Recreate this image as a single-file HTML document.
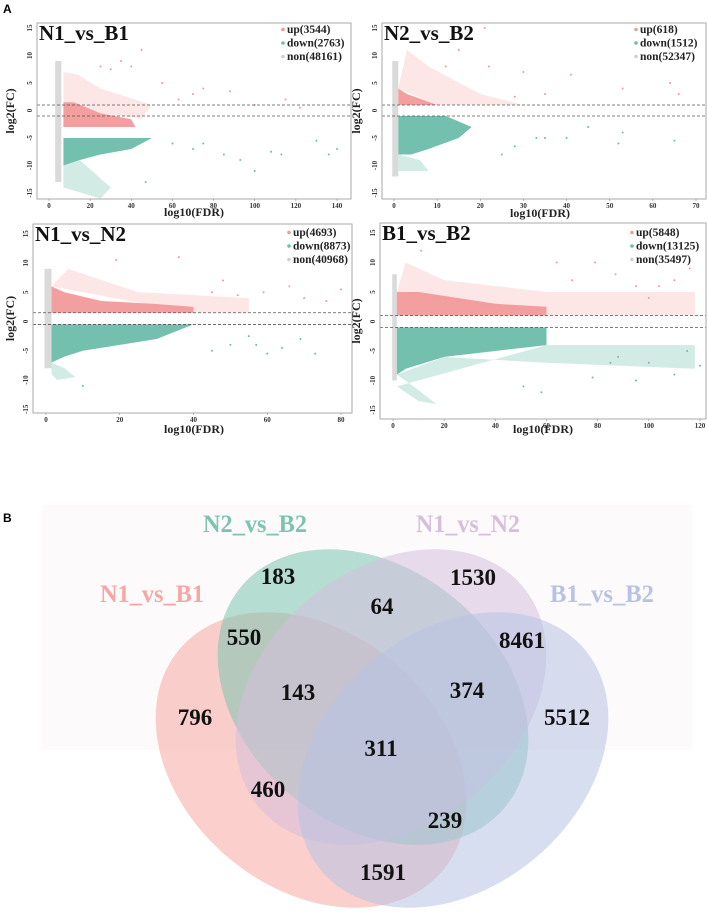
<!DOCTYPE html>
<html><head><meta charset="utf-8">
<style>
html,body{margin:0;padding:0;background:#fff;overflow:hidden;}
svg{display:block;}
text{font-family:"Liberation Serif",serif;}
</style></head>
<body>
<svg id="fig" width="708" height="920" viewBox="0 0 708 920" xmlns="http://www.w3.org/2000/svg" style="overflow:hidden">
<text x="3" y="13" font-weight="bold" font-size="12" style="font-family:'Liberation Sans',sans-serif">A</text>
<text x="3" y="522" font-weight="bold" font-size="12" style="font-family:'Liberation Sans',sans-serif">B</text>
<g id="volcanos"></g>
<g id="venn"></g>
</svg>
<script>
// ---------- Volcano data (data units: [log10(FDR), log2(FC)]) ----------
const panelTitles = ["N1_vs_B1","N2_vs_B2","N1_vs_N2","B1_vs_B2"];
const upCounts = [3544,618,4693,5848];
const downCounts = [2763,1512,8873,13125];
const nonCounts = [48161,52347,40968,35497];
const xTickSets = [[0,20,40,60,80,100,120,140],[0,10,20,30,40,50,60,70],[0,20,40,60,80],[0,20,40,60,80,100,120]];
const yTicks = [-15,-10,-5,0,5,10,15];
const cutLines = [[1,-1],[1,-1],[1.5,-0.5],[1,-1]];
const greyZones = [
 [[3,-13],[3,9],[6,9],[6,-13]],
 [[-0.4,-12],[-0.4,9],[1,9],[1,-12]],
 [[-0.4,-8],[-0.4,9],[1.5,9],[1.5,-8]],
 [[-0.3,-10],[-0.3,8],[1.5,8],[1.5,-10]]];
const upDense = [
 [[7,1.5],[7,-3],[42,-3],[40,-1.6],[25,-0.5],[12,1.5]],
 [[1,1],[1,4],[3,3],[8,1.6],[10,1]],
 [[1.5,1.5],[1.5,6],[5,5],[15,3.5],[30,3],[40,2.5],[40,1.5]],
 [[1.5,1],[1.5,5],[10,5],[40,3],[60,2.5],[60,1]]];
const upSpread = [
 [[7,1.5],[7,7],[14,6.5],[25,4],[50,1],[45,-1.5],[25,-0.5],[12,1.5]],
 [[1,4],[3,11],[8,8],[20,3],[30,1],[10,1]],
 [[1.5,6],[6,9],[25,5],[55,4],[55,1.5],[40,1.5]],
 [[1.5,5],[5,10],[20,7],[60,5],[118,5],[118,1],[60,1]]];
const downDense = [
 [[7,-5],[50,-5],[40,-7],[25,-8],[15,-9],[7,-10]],
 [[1,-1],[12,-1],[18,-3],[15,-5],[8,-7],[4,-8],[1,-8]],
 [[1.5,-0.5],[40,-0.5],[30,-3],[20,-4],[10,-5],[5,-6],[1.5,-7]],
 [[1.5,-1],[60,-1],[60,-4],[40,-5],[20,-6],[5,-8],[1.5,-9]]];
const downSpread = [
 [[7,-10],[15,-9],[30,-14],[25,-16],[7,-14]],
 [[1,-8],[6,-9],[8,-11],[1,-11]],
 [[1.5,-7],[5,-8],[8,-9.5],[3,-10],[1.5,-9]],
 [[1.5,-9],[8,-11],[17,-14],[10,-13.5],[1.5,-11],[60,-4],[118,-4],[118,-8],[60,-7],[20,-6]]];
const upDots = [
 [[45,11],[40,8],[30,7.5],[55,5],[70,3],[75,4],[88,3.5],[100,1],[115,2],[122,0.5],[63,2],[35,9],[25,8]],
 [[21,15],[15,11],[12,8],[22,8],[30,7],[41,6.5],[53,4],[64,5],[66,3],[35,3],[28,2.5]],
 [[36,11],[19,10.5],[48,7],[59,5],[66,6],[70,4],[76,3.5],[80,5.5],[45,5],[52,4.5]],
 [[11,12],[64,10],[79,10],[87,8],[110,7],[116,9],[95,6],[104,6],[70,7],[100,4]]];
const downDots = [
 [[60,-6],[70,-7],[85,-8],[93,-9],[100,-11],[108,-7.5],[113,-8],[130,-5.5],[136,-8],[140,-7],[47,-13],[75,-6]],
 [[25,-8],[28,-6.5],[33,-5],[40,-5],[45,-3],[52,-6],[53,-4],[65,-5.5],[35,-5]],
 [[45,-5],[50,-4],[57,-4],[60,-5.5],[64,-4.5],[69,-3],[73,-5.5],[55,-2.5],[10,-11]],
 [[51,-11],[58,-12],[78,-9.5],[85,-7],[95,-10],[100,-7],[110,-9],[115,-5],[120,-7.5],[88,-6]]];

// ---------- layout per panel (pixel geometry, not data) ----------
const geo = [
 {bx:37,by:23,bw:314,bh:176,x0:49,xs:2.057,y0:110.5,ys:5.5,lx:194,ly:216,ylx:14,lgx:283,lgy:33},
 {bx:382,by:23,bw:324,bh:176,x0:394,xs:4.314,y0:110.5,ys:5.5,lx:540,ly:217,ylx:360,lgx:636,lgy:33},
 {bx:33,by:224,bw:319,bh:189,x0:46,xs:3.6875,y0:321.5,ys:5.85,lx:194,ly:433,ylx:14,lgx:289,lgy:236},
 {bx:380,by:223,bw:326,bh:196,x0:393,xs:2.558,y0:321.5,ys:5.9,lx:543,ly:433,ylx:360,lgx:632,lgy:236}];

const NS="http://www.w3.org/2000/svg";
function mk(tag, attrs, parent){
  const e=document.createElementNS(NS,tag);
  for(const k in attrs) e.setAttribute(k,attrs[k]);
  parent.appendChild(e); return e;
}
const vg=document.getElementById('volcanos');
const PINK="#f29a9a", TEAL="#6dbdaa", GREY="#dadada";

for(let p=0;p<4;p++){
  const g=geo[p];
  const X=v=>g.x0+v*g.xs, Y=v=>g.y0-v*g.ys;
  const pg=mk('g',{},vg);
  
  
  const clip=mk('clipPath',{id:'c'+p},pg);
  mk('rect',{x:g.bx,y:g.by,width:g.bw,height:g.bh},clip);
  const inner=mk('g',{'clip-path':'url(#c'+p+')'},pg);
  
  
  const poly=(pts,fill,op,name)=>{
    const e=mk('polygon',{points:pts.map(q=>X(q[0])+','+Y(q[1])).join(' '),fill:fill,'fill-opacity':op},inner);
    
    
  };
  poly(upSpread[p],PINK,0.25,'up-spread-region');
  poly(downSpread[p],TEAL,0.3,'down-spread-region');
  poly(greyZones[p],GREY,1,'non-significant-points');
  poly(upDense[p],PINK,0.95,'up-dense-points');
  poly(downDense[p],TEAL,0.95,'down-dense-points');
  upDots[p].forEach(d=>{
    const c=mk('circle',{cx:X(d[0]),cy:Y(d[1]),r:1,fill:PINK},inner);
    
    
  });
  downDots[p].forEach(d=>{
    const c=mk('circle',{cx:X(d[0]),cy:Y(d[1]),r:1,fill:TEAL},inner);
    
    
  });
  cutLines[p].forEach(v=>{
    const l=mk('line',{x1:g.bx,x2:g.bx+g.bw,y1:Y(v),y2:Y(v),stroke:'#555','stroke-width':0.8,'stroke-dasharray':'3,2'},inner);
    
    
  });
  const box=mk('rect',{x:g.bx,y:g.by,width:g.bw,height:g.bh,fill:'none',stroke:'#aaa','stroke-width':1},pg);
  
  
  xTickSets[p].forEach(v=>{
    const t=mk('text',{x:X(v),y:g.by+g.bh+9,'font-size':7,'font-weight':'bold','text-anchor':'middle',fill:'#333'},pg);
    t.textContent=v;
    
    
    const tk=mk('line',{x1:X(v),x2:X(v),y1:g.by+g.bh,y2:g.by+g.bh+2,stroke:'#888','stroke-width':0.6},pg);
    
    
  });
  yTicks.forEach(v=>{
    const tx=g.bx-5, ty=Y(v);
    const t=mk('text',{x:tx,y:ty,'font-size':7,'font-weight':'bold','text-anchor':'middle',fill:'#333',transform:'rotate(-90 '+tx+' '+ty+')'},pg);
    t.textContent=v;
    
    
  });
  const xl=mk('text',{x:g.lx,y:g.ly,'font-size':12,'font-weight':'bold','text-anchor':'middle',fill:'#222'},pg);
  xl.textContent='log10(FDR)';
  
  
  const cy=g.by+g.bh/2;
  const yl=mk('text',{x:g.ylx,y:cy,'font-size':12,'font-weight':'bold','text-anchor':'middle',fill:'#222',transform:'rotate(-90 '+g.ylx+' '+cy+')'},pg);
  yl.textContent='log2(FC)';
  
  
  const tt=mk('text',{x:g.bx+2,y:g.by+17,'font-size':21,'font-weight':'bold',fill:'#111'},pg);
  tt.textContent=panelTitles[p];
  
  
  const leg=[['up('+upCounts[p]+')',PINK],['down('+downCounts[p]+')',TEAL],['non('+nonCounts[p]+')','#cfcfcf']];
  leg.forEach((L,i)=>{
    const y=g.lgy+i*13.5;
    const m=mk('circle',{cx:g.lgx,cy:y-3.5,r:1.8,fill:L[1]},pg);
    
    
    const t=mk('text',{x:g.lgx+4,y:y,'font-size':11.5,'font-weight':'bold',fill:'#222'},pg);
    t.textContent=L[0];
    
    
  });
}

// ---------- Venn ----------
const setNames=["N1_vs_B1","N2_vs_B2","N1_vs_N2","B1_vs_B2"];
const regionCounts=[183,1530,64,550,8461,143,374,796,5512,311,460,239,1591];
const vennColors=["#f6a7a3","#7cc4b0","#d6bfdc","#b7c2e4"];
const ellGeo=[{cx:311,cy:760,rot:40},{cx:373,cy:697,rot:40},{cx:391,cy:697,rot:-40},{cx:453,cy:760,rot:-40}];
const labelPos=[[152,602],[255,532],[468,532],[602,602]];
const numPos=[[278,576],[473,577],[382,606],[244,637],[522,640],[298,692],[467,690],[195,717],[567,717],[381,748],[268,789],[445,820],[383,872]];
const vg2=document.getElementById('venn');
const bg=mk('rect',{x:42,y:505,width:650,height:245,fill:'#fdfafb'},vg2);


ellGeo.forEach((e,i)=>{
  const el=mk('ellipse',{cx:e.cx,cy:e.cy,rx:172,ry:128,fill:vennColors[i],'fill-opacity':0.55,transform:'rotate('+e.rot+' '+e.cx+' '+e.cy+')'},vg2);
  
  
});
setNames.forEach((n,i)=>{
  const t=mk('text',{x:labelPos[i][0],y:labelPos[i][1],'font-size':25,'font-weight':'bold','text-anchor':'middle',fill:vennColors[i],textLength:104,lengthAdjust:'spacingAndGlyphs'},vg2);
  t.textContent=n;
  
  
});
regionCounts.forEach((c,i)=>{
  const t=mk('text',{x:numPos[i][0],y:numPos[i][1]+8,'font-size':23,'font-weight':'bold','text-anchor':'middle',fill:'#111'},vg2);
  t.textContent=c;
  
  
});
</script>
</body></html>
